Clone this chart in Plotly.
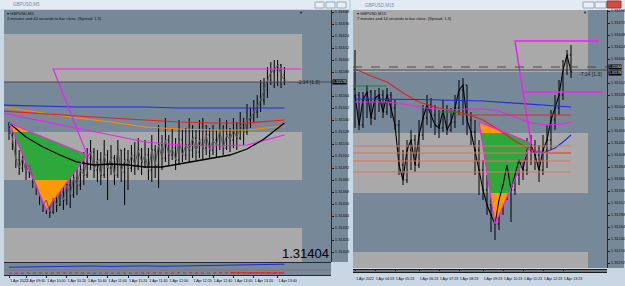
import plotly.graph_objects as go

# ================= LEFT CHART (GBPUSD,M5) =================
L_close = [1.31532,1.31522,1.31500,1.31492,1.31502,1.31488,1.31495,1.31482,1.31475,1.31465,
           1.31455,1.31460,1.31448,1.31462,1.31455,1.31468,1.31460,1.31475,1.31465,1.31482,
           1.31475,1.31490,1.31485,1.31502,1.31508,1.31490,1.31500,1.31485,1.31505,1.31492,
           1.31502,1.31485,1.31510,1.31488,1.31500,1.31492,1.31505,1.31495,1.31510,1.31498,
           1.31505,1.31490,1.31510,1.31495,1.31515,1.31502,1.31520,1.31505,1.31512,1.31500,
           1.31520,1.31505,1.31515,1.31510,1.31522,1.31508,1.31520,1.31512,1.31525,1.31510,
           1.31520,1.31515,1.31530,1.31512,1.31525,1.31520,1.31530,1.31522,1.31535,1.31528,
           1.31540,1.31542,1.31548,1.31555,1.31560,1.31570,1.31580,1.31588,1.31590,1.31595,
           1.31585,1.31580]
L_high = [1.31538,1.31534,1.31530,1.31510,1.31512,1.31508,1.31515,1.31500,1.31495,1.31485,
          1.31472,1.31470,1.31465,1.31480,1.31472,1.31480,1.31482,1.31490,1.31482,1.31495,
          1.31500,1.31502,1.31508,1.31512,1.31520,1.31512,1.31510,1.31508,1.31520,1.31510,
          1.31515,1.31505,1.31520,1.31510,1.31512,1.31510,1.31515,1.31518,1.31522,1.31512,
          1.31520,1.31512,1.31525,1.31515,1.31535,1.31525,1.31542,1.31525,1.31532,1.31522,
          1.31540,1.31530,1.31532,1.31542,1.31535,1.31530,1.31540,1.31542,1.31535,1.31532,
          1.31535,1.31530,1.31542,1.31535,1.31540,1.31532,1.31542,1.31538,1.31548,1.31542,
          1.31556,1.31552,1.31560,1.31565,1.31580,1.31582,1.31593,1.31598,1.31600,1.31600,
          1.31596,1.31593]
L_low = [1.31520,1.31510,1.31492,1.31485,1.31488,1.31480,1.31482,1.31472,1.31465,1.31455,
         1.31448,1.31446,1.31442,1.31446,1.31448,1.31454,1.31450,1.31455,1.31452,1.31462,
         1.31465,1.31470,1.31475,1.31482,1.31490,1.31482,1.31478,1.31475,1.31482,1.31460,
         1.31485,1.31475,1.31482,1.31478,1.31455,1.31470,1.31488,1.31485,1.31490,1.31485,
         1.31492,1.31480,1.31478,1.31482,1.31472,1.31490,1.31498,1.31495,1.31500,1.31490,
         1.31495,1.31498,1.31500,1.31498,1.31502,1.31500,1.31502,1.31500,1.31505,1.31502,
         1.31505,1.31502,1.31510,1.31505,1.31510,1.31508,1.31512,1.31510,1.31520,1.31515,
         1.31525,1.31532,1.31538,1.31542,1.31548,1.31555,1.31562,1.31575,1.31572,1.31574,
         1.31572,1.31575]
L_first_open = 1.31536

L_ma_x = [-2, 10, 20, 30, 40, 50, 60, 70, 81]
L_blue = [1.31555,1.31554,1.31553,1.31553,1.31553,1.31552,1.31552,1.31552,1.31552]
L_red = [1.31549,1.31546,1.31544,1.31542,1.31540,1.31538,1.31537,1.31537,1.31540]
L_orange = [1.31553,1.31547,1.31542,1.31538,1.31533,1.31531,1.31530,1.31530,1.31534]
L_magenta = [1.31547,1.31539,1.31532,1.31525,1.31518,1.31515,1.31514,1.31515,1.31525]
L_black_x = [0,5,10,15,20,25,30,35,40,45,50,55,60,65,70,75,81]
L_black = [1.31537,1.31523,1.31513,1.31505,1.31498,1.31495,1.31496,1.31495,1.31493,
           1.31493,1.31496,1.31499,1.31502,1.31505,1.31511,1.31521,1.31537]

L_zones = [(1.31578, 1.31626), (1.31480, 1.31528), (1.31380, 1.31432)]
L_zone_end = 86.2
L_bid = 1.31578
L_tri_x = [0, 23, 11]
L_tri_y = [1.31537, 1.31505, 1.31450]
L_leg_x = [86, 13, 23]
L_leg_y = [1.31591, 1.31591, 1.31505]

L_tick_pos = [0,5,11,17,23,29,35,41,47,54,60,66,72,79]
L_tick_text = ["1 Apr 2022","1 Apr 09:40","1 Apr 10:00","1 Apr 10:20","1 Apr 10:40",
               "1 Apr 11:00","1 Apr 11:20","1 Apr 11:40","1 Apr 12:00","1 Apr 12:20",
               "1 Apr 12:40","1 Apr 13:00","1 Apr 13:20","1 Apr 13:40"]

L_ind_x = [0,5,10,15,20,25,30,35,40,45,50,55,60,65,70,75,81]
L_ind1 = [0.30,0.35,0.40,0.38,0.45,0.50,0.42,0.48,0.52,0.45,0.50,0.55,0.50,0.58,0.62,0.75,0.80]
L_ind2 = [0.45,0.50,0.50,0.55,0.50,0.45,0.50,0.50,0.55,0.50,0.50,0.45,0.50,0.55,0.50,0.50,0.50]

# ================= RIGHT CHART =================
R_close = [1.31528,1.31468,1.31518,1.31534,1.31482,1.31522,1.31528,1.31494,1.31528,1.31502,
           1.31468,1.31388,1.31358,1.31418,1.31438,1.31388,1.31448,1.31482,1.31508,1.31488,
           1.31468,1.31462,1.31498,1.31458,1.31474,1.31502,1.31538,1.31548,1.31478,1.31454,
           1.31418,1.31378,1.31338,1.31308,1.31288,1.31270,1.31318,1.31348,1.31388,1.31338,
           1.31368,1.31398,1.31378,1.31418,1.31428,1.31408,1.31378,1.31418,1.31438,1.31478,
           1.31502,1.31528,1.31578,1.31608,1.31574]
R_high = [1.31618,1.31534,1.31534,1.31548,1.31538,1.31538,1.31542,1.31538,1.31542,1.31534,
          1.31518,1.31478,1.31418,1.31438,1.31458,1.31448,1.31478,1.31508,1.31528,1.31522,
          1.31508,1.31498,1.31518,1.31508,1.31502,1.31528,1.31558,1.31562,1.31548,1.31494,
          1.31478,1.31438,1.31398,1.31368,1.31338,1.31318,1.31348,1.31388,1.31408,1.31398,
          1.31418,1.31428,1.31438,1.31442,1.31448,1.31438,1.31428,1.31448,1.31468,1.31498,
          1.31528,1.31558,1.31598,1.31618,1.31628]
R_low = [1.31462,1.31458,1.31462,1.31482,1.31468,1.31478,1.31494,1.31482,1.31488,1.31482,
         1.31458,1.31368,1.31348,1.31352,1.31378,1.31374,1.31382,1.31438,1.31468,1.31462,
         1.31448,1.31442,1.31454,1.31448,1.31454,1.31462,1.31488,1.31468,1.31448,1.31428,
         1.31368,1.31328,1.31318,1.31288,1.31254,1.31238,1.31258,1.31288,1.31318,1.31274,
         1.31328,1.31348,1.31358,1.31368,1.31388,1.31378,1.31354,1.31368,1.31382,1.31418,
         1.31458,1.31488,1.31518,1.31568,1.31562]
R_first_open = 1.31540

R_red_x = [0,4,8,12,16,20,24,28,32,36,40,44,48,54]
R_red = [1.31580,1.31566,1.31554,1.31532,1.31514,1.31504,1.31496,1.31490,1.31478,
         1.31458,1.31436,1.31418,1.31412,1.31412]
R_blue_x = [0,16,32,44,54]
R_blue = [1.31520,1.31519,1.31516,1.31510,1.31504]
R_mag_x = [0,8,12,16,20,24,28,32,36,40,44,48,52,54]
R_mag = [1.31514,1.31514,1.31510,1.31504,1.31500,1.31498,1.31500,1.31500,1.31496,
         1.31484,1.31472,1.31468,1.31470,1.31474]
R_bcurve_x = [44,47,50,52,54]
R_bcurve = [1.31414,1.31412,1.31422,1.31434,1.31448]
R_levels = [1.31426,1.31412,1.31396,1.31374]
R_level_end = 54
R_level2 = 1.31488
R_level2_x = [25, 54]
R_green = [([-0.5, 8], 1.31546), ([21, 26], 1.31494)]

R_zones = [(1.31574, 1.31720), (1.31332, 1.31452), (1.31160, 1.31214)]
R_zone_end = 58.25
R_bid = 1.31578
R_ask = 1.31584
R_tri_x = [31, 44, 35]
R_tri_y = [1.31474, 1.31432, 1.31270]
R_leg_x = [61, 40, 44]
R_leg_y = [1.31636, 1.31636, 1.31432]
R_leg2_x = [42, 62]
R_leg2_y = 1.31534

R_tick_pos = [0,5,10,16,21,26,32,37,42,47,52]
R_tick_text = ["1 Apr 2022","1 Apr 04:23","1 Apr 05:23","1 Apr 06:23","1 Apr 07:23",
               "1 Apr 08:23","1 Apr 09:23","1 Apr 10:23","1 Apr 11:23","1 Apr 12:23",
               "1 Apr 13:23"]

# ================= styling =================
W, H = 625, 286
def px(x): return x / W
def py(y): return 1 - y / H

SLATE = "#778899"
ZONE = "#A9A9A9"
GREEN = "#2EA83A"
ORANGE = "#FF9900"
MAG = "#F020F0"
FRAME = "#C9D6E4"
TITLE = "#E2EBF4"
FONT = "Liberation Sans"

L_yrange = [1.31398, 1.31650]
R_yrange = [1.31182, 1.31698]

def price_ticks(rng, step, avoid, gap):
    vals = []
    n = int(round((rng[0] - 1.31) / step))
    while True:
        v = round(1.31 + n * step, 5)
        if v > rng[1]:
            break
        if v >= rng[0] and abs(v - avoid) >= gap:
            vals.append(v)
        n += 1
    return vals

def clip(poly, y0, keep_above):
    out = []
    n = len(poly)
    for k in range(n):
        p, q = poly[k], poly[(k + 1) % n]
        pin = p[1] >= y0 if keep_above else p[1] <= y0
        qin = q[1] >= y0 if keep_above else q[1] <= y0
        if pin:
            out.append(p)
        if pin != qin:
            t = (y0 - p[1]) / (q[1] - p[1])
            out.append((p[0] + t * (q[0] - p[0]), y0))
    return out

fig = go.Figure()

def add_chart(xa, ya, close, high, low, first_open, zones, zone_end, tri_x, tri_y,
              close_line_color, close_line_width):
    for lo, hi in zones:
        fig.add_shape(type="rect", xref=xa, yref=ya, x0=-5, x1=zone_end, y0=lo, y1=hi,
                      fillcolor=ZONE, line_width=0, layer="below")
    tri = list(zip(tri_x, tri_y))
    zlo, zhi = zones[1]
    pieces = [(clip(tri, zhi, True), ORANGE), (clip(tri, zlo, False), ORANGE),
              (clip(clip(tri, zlo, True), zhi, False), GREEN)]
    for poly, col in pieces:
        if len(poly) >= 3:
            fig.add_trace(go.Scatter(x=[p[0] for p in poly] + [poly[0][0]],
                                     y=[p[1] for p in poly] + [poly[0][1]],
                                     xaxis=xa, yaxis=ya, mode="lines", fill="toself",
                                     fillcolor=col, line=dict(width=0), hoverinfo="skip"))
    idx = list(range(len(close)))
    fig.add_trace(go.Scatter(x=idx, y=close, xaxis=xa, yaxis=ya, mode="lines",
                             line=dict(color=close_line_color, width=close_line_width)))
    opens = [first_open] + close[:-1]
    fig.add_trace(go.Ohlc(x=idx, open=opens, high=high, low=low, close=close,
                          xaxis=xa, yaxis=ya, tickwidth=0.3,
                          increasing=dict(line=dict(color="#000000", width=1)),
                          decreasing=dict(line=dict(color="#000000", width=1))))

def line(xa, ya, x, y, color, width=1.2, dash="solid"):
    fig.add_trace(go.Scatter(x=x, y=y, xaxis=xa, yaxis=ya, mode="lines",
                             line=dict(color=color, width=width, dash=dash)))

# ---- left
add_chart("x", "y", L_close, L_high, L_low, L_first_open, L_zones, L_zone_end,
          L_tri_x, L_tri_y, "#5c5c5c", 1)
fig.add_shape(type="line", xref="x", yref="y", x0=-5, x1=100, y0=L_bid, y1=L_bid,
              line=dict(color="#4a4a4a", width=1))
line("x", "y", L_ma_x, L_orange, "#FF8C00")
line("x", "y", L_ma_x, L_red, "#E8201C")
line("x", "y", L_ma_x, L_blue, "#1E2EE6")
line("x", "y", L_ma_x, L_magenta, MAG)
line("x", "y", L_black_x, L_black, "#000000", 1.3)
line("x", "y", L_tri_x + [L_tri_x[0]], L_tri_y + [L_tri_y[0]], MAG, 1.2)
line("x", "y", L_leg_x, L_leg_y, MAG, 1.2)
line("x", "y3", L_ind_x, L_ind1, "#1E2EC8", 1)
line("x", "y4", L_ind_x, L_ind2, "#E02020", 1, "dot")
line("x", "y4", L_ind_x[13:], L_ind2[13:], "#E02020", 1)

# ---- right
add_chart("x2", "y2", R_close, R_high, R_low, R_first_open, R_zones, R_zone_end,
          R_tri_x, R_tri_y, "#000000", 1.1)
fig.add_shape(type="line", xref="x2", yref="y2", x0=-5, x1=70, y0=R_bid, y1=R_bid,
              line=dict(color="#4a4a4a", width=1))
fig.add_shape(type="line", xref="x2", yref="y2", x0=-5, x1=70, y0=R_ask, y1=R_ask,
              line=dict(color="#4a4a4a", width=1, dash="dash"))
for lv in R_levels:
    fig.add_shape(type="line", xref="x2", yref="y2", x0=-5, x1=R_level_end, y0=lv, y1=lv,
                  line=dict(color="#E0706A", width=1))
fig.add_shape(type="line", xref="x2", yref="y2", x0=R_level2_x[0], x1=R_level2_x[1],
              y0=R_level2, y1=R_level2, line=dict(color="#D83030", width=1))
for gx, gy in R_green:
    fig.add_shape(type="line", xref="x2", yref="y2", x0=gx[0], x1=gx[1], y0=gy, y1=gy,
                  line=dict(color="#1E8A1E", width=1.2))
line("x2", "y2", R_red_x, R_red, "#E8201C")
line("x2", "y2", R_blue_x, R_blue, "#1E2EE6")
line("x2", "y2", R_mag_x, R_mag, MAG)
line("x2", "y2", R_bcurve_x, R_bcurve, "#1E2EE6")
line("x2", "y2", R_tri_x + [R_tri_x[0]], R_tri_y + [R_tri_y[0]], MAG, 1.2)
line("x2", "y2", R_leg_x, R_leg_y, MAG, 1.5)
line("x2", "y2", R_leg2_x, [R_leg2_y, R_leg2_y], MAG, 1.5)

# ---- axes
tickfont = dict(size=3.6, color="#101010", family=FONT)
common_x = dict(showgrid=False, zeroline=False, showline=False, tickmode="array",
                ticks="outside", ticklen=2, tickcolor="#222", tickfont=tickfont,
                tickangle=0, rangeslider=dict(visible=False), fixedrange=True,
                automargin=False, ticklabelshift=10)
common_y = dict(showgrid=False, zeroline=False, side="right", showline=True,
                linecolor="#2a2a2a", linewidth=1, ticks="outside", ticklen=2,
                tickcolor="#222", tickformat=".5f", tickmode="array",
                tickfont=dict(size=4, color="#101010", family=FONT),
                fixedrange=True, automargin=False)
blank_y = dict(showgrid=False, zeroline=False, showticklabels=False, range=[0, 1],
               fixedrange=True, automargin=False)

fig.update_layout(
    width=W, height=H, margin=dict(l=0, r=0, t=0, b=0),
    paper_bgcolor=FRAME, plot_bgcolor=SLATE, showlegend=False,
    xaxis=dict(domain=[px(4), px(331)], range=[-1.47, 94.7], anchor="y4",
               tickvals=L_tick_pos, ticktext=L_tick_text, ticklabelstandoff=0, **common_x),
    yaxis=dict(domain=[py(262), py(10)], range=L_yrange, anchor="x",
               tickvals=price_ticks(L_yrange, 0.00012, L_bid, 0.00007), **common_y),
    yaxis3=dict(domain=[py(269), py(263)], anchor="x", **blank_y),
    yaxis4=dict(domain=[py(275), py(271)], anchor="x", **blank_y),
    xaxis2=dict(domain=[px(353), px(607)], range=[-0.5, 63], anchor="y2",
                tickvals=R_tick_pos, ticktext=R_tick_text, ticklabelstandoff=5, **common_x),
    yaxis2=dict(domain=[py(268), py(10)], range=R_yrange, anchor="x2",
                tickvals=price_ticks(R_yrange, 0.00024, (R_bid + R_ask) / 2, 0.00016),
                **common_y),
)

# ---- window chrome (paper shapes)
def prect(x0, y0, x1, y1, color, layer="below", lc=None):
    fig.add_shape(type="rect", xref="paper", yref="paper", x0=px(x0), x1=px(x1),
                  y0=py(y1), y1=py(y0), fillcolor=color, layer=layer,
                  line=dict(width=1 if lc else 0, color=lc or color))

def pline(x0, y0, x1, y1, color, width=1):
    fig.add_shape(type="line", xref="paper", yref="paper", x0=px(x0), x1=px(x1),
                  y0=py(y0), y1=py(y1), line=dict(color=color, width=width), layer="above")

prect(331, 10, 348, 262, SLATE)
prect(607, 10, 624, 268, SLATE)
prect(0, 0, 349, 9, TITLE)
prect(351, 0, 625, 10, TITLE)
for bx in (315, 326, 337):
    prect(bx, 2, bx + 9, 8, "#E8EEF4", "above", "#9AA8B8")
for bx in (583, 595):
    prect(bx, 2, bx + 11, 8, "#E8EEF4", "above", "#9AA8B8")
prect(607, 1, 621, 8, "#D9483B", "above", "#A03028")
pline(4, 262.5, 331, 262.5, "#2a2a2a")
pline(4, 270, 331, 270, "#2a2a2a")
pline(4, 275.5, 331, 275.5, "#2a2a2a")
for yy in (269.5, 271, 272.5):
    pline(353, yy, 607, yy, "#1a1a1a")

def note(x, y, text, size=4.5, color="#101010", xanchor="left", yanchor="top", bg=None):
    fig.add_annotation(xref="paper", yref="paper", x=px(x), y=py(y), text=text,
                       showarrow=False, xanchor=xanchor, yanchor=yanchor,
                       font=dict(size=size, color=color, family=FONT),
                       bgcolor=bg, borderpad=0)

note(12, 1, "GBPUSD,M5", 4.5, "#7A8AA0")
note(364, 2, "GBPUSD,M15", 4.5, "#7A8AA0")
note(6, 10.5, "▾ GBPUSD,M5", 4)
note(6, 14.5, "2 minutes and 44 seconds to bar close. (Spread: 1.3)", 4)
note(356, 10.5, "▾ GBPUSD,M15", 4)
note(356, 14.5, "7 minutes and 14 seconds to bar close. (Spread: 1.3)", 4)
note(298, 9, "▼", 4)
note(582, 9, "▼", 4)
note(296, 82, "-2:14 [1.3]", 5, "#1a1a1a", yanchor="middle")
note(578, 74, "-7:14 [1.3]", 5, "#1a1a1a", yanchor="middle")
note(332, 82, "1.31578", 3.6, "#FFFFFF", yanchor="middle", bg="#000000")
note(608, 66.5, "1.31584", 3.4, "#FFFFFF", yanchor="middle", bg="#000000")
note(608, 72.5, "1.31578", 3.4, "#FFFFFF", yanchor="middle", bg="#000000")
note(330, 262, "1.31404", 13, "#000000", xanchor="right", yanchor="bottom")

fig.write_html("out.html", config={"displayModeBar": False})
